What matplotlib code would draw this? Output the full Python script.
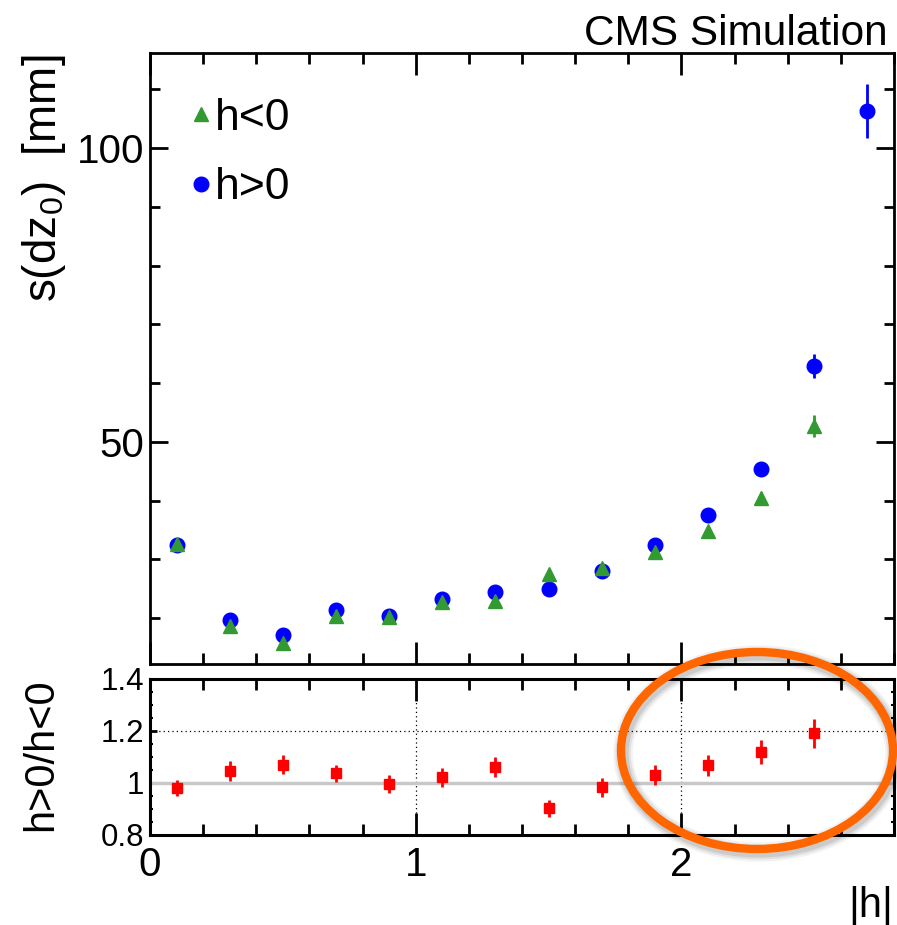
import matplotlib
matplotlib.use("Agg")
import matplotlib.pyplot as plt
from matplotlib.lines import Line2D
from matplotlib.patches import Ellipse
from matplotlib.ticker import MultipleLocator, FuncFormatter

plt.rcParams['font.family'] = ['Liberation Sans', 'DejaVu Sans']
plt.rcParams['mathtext.fontset'] = 'custom'
plt.rcParams['mathtext.rm'] = 'Liberation Sans'
plt.rcParams['mathtext.it'] = 'Liberation Sans'

# |eta| bin centres
eta = [0.1, 0.3, 0.5, 0.7, 0.9, 1.1, 1.3, 1.5, 1.7, 1.9, 2.1, 2.3, 2.5, 2.7]

# sigma(dz0) [um] for positive-eta tracks
pos_val = [32.5, 19.7, 17.1, 21.4, 20.3, 23.3, 24.5, 24.9, 28.05, 32.4, 37.5, 45.4, 62.95, 106.4]
pos_err = [0.4, 0.3, 0.3, 0.3, 0.3, 0.3, 0.4, 0.4, 0.5, 0.6, 0.7, 1.0, 2.0, 4.6]

# sigma(dz0) [um] for negative-eta tracks
neg_eta = eta[:13]
neg_val = [32.7, 18.6, 15.8, 20.4, 20.2, 22.8, 23.0, 27.5, 28.5, 31.3, 34.9, 40.5, 52.7]
neg_err = [0.4, 0.3, 0.3, 0.3, 0.3, 0.3, 0.4, 0.4, 0.5, 0.6, 0.7, 0.9, 1.9]

# ratio positive / negative
ratio_eta = eta[:13]
ratio_val = [0.981, 1.047, 1.071, 1.037, 0.995, 1.022, 1.061, 0.903, 0.984, 1.031, 1.068, 1.119, 1.191]
ratio_err = [0.032, 0.038, 0.036, 0.033, 0.035, 0.036, 0.039, 0.033, 0.036, 0.038, 0.041, 0.046, 0.057]

GREEN = '#339933'
BLUE = '#0000ff'
RED = '#ff0000'

W, H = 897, 925
fig = plt.figure(figsize=(W / 100, H / 100), dpi=100)

L, R = 150 / W, 894 / W
ax = fig.add_axes([L, 1 - 664 / H, R - L, (664 - 53) / H])
rax = fig.add_axes([L, 1 - 835 / H, R - L, (835 - 679) / H])

# ---- main panel ----
ax.errorbar(eta, pos_val, yerr=pos_err, fmt='o', color=BLUE, ms=10.5,
            elinewidth=2, capsize=0, zorder=3)
ax.errorbar(neg_eta, neg_val, yerr=neg_err, fmt='^', color=GREEN, ms=10.5,
            elinewidth=2, capsize=0, zorder=4)

ax.set_xlim(0, 2.8)
ax.set_ylim(12.2, 116.2)
ax.xaxis.set_major_locator(MultipleLocator(1))
ax.xaxis.set_minor_locator(MultipleLocator(0.2))
ax.yaxis.set_major_locator(MultipleLocator(50))
ax.yaxis.set_minor_locator(MultipleLocator(10))
ax.tick_params(which='both', direction='in', top=True, right=True, width=2)
ax.tick_params(which='major', axis='x', length=16)
ax.tick_params(which='minor', axis='x', length=8)
ax.tick_params(which='major', axis='y', length=13)
ax.tick_params(which='minor', axis='y', length=7)
ax.tick_params(axis='x', labelbottom=False)
ax.tick_params(axis='y', labelsize=29, pad=4)
for s in ax.spines.values():
    s.set_linewidth(2)

handles = [Line2D([], [], marker='^', ls='none', color=GREEN, ms=10.5),
           Line2D([], [], marker='o', ls='none', color=BLUE, ms=10.5)]
ax.legend(handles, ['h<0', 'h>0'], loc='upper left',
          bbox_to_anchor=((192 - 150) / 744, (664 - 98) / 611),
          frameon=False, fontsize=32, handlelength=0.4, handletextpad=0.12,
          labelspacing=0.64, borderpad=0, borderaxespad=0)

fig.text(888 / W, 1 - 45 / H, 'CMS Simulation', ha='right', va='baseline', fontsize=30.5)
fig.text(44 / W, 1 - 54 / H, 's(dz$_0$)  [mm]', rotation=90, ha='center', va='top',
         fontsize=33)

# ---- ratio panel ----
rax.grid(True, which='major', color='black', ls=(0, (1, 2.5)), lw=0.9)
rax.set_axisbelow(True)
rax.axhline(1.0, color='#c8c8c8', lw=2.5, zorder=2)
rax.errorbar(ratio_eta, ratio_val, yerr=ratio_err, fmt='s', color=RED, ms=7,
             elinewidth=2, capsize=0, zorder=3)
rax.set_xlim(0, 2.8)
rax.set_ylim(0.8, 1.4)
rax.xaxis.set_major_locator(MultipleLocator(1))
rax.xaxis.set_minor_locator(MultipleLocator(0.2))
rax.yaxis.set_major_locator(MultipleLocator(0.2))
rax.yaxis.set_minor_locator(MultipleLocator(0.05))
rax.yaxis.set_major_formatter(FuncFormatter(lambda v, p: f'{v:g}'))
rax.tick_params(which='both', direction='in', top=True, right=True, width=2)
rax.tick_params(which='major', axis='x', length=16)
rax.tick_params(which='minor', axis='x', length=8)
rax.tick_params(which='major', axis='y', length=5)
rax.tick_params(which='minor', axis='y', length=2, width=1.5)
rax.tick_params(axis='x', labelsize=29, pad=8)
rax.tick_params(axis='y', labelsize=22.5, pad=4)
for s in rax.spines.values():
    s.set_linewidth(2.2)
    s.set_zorder(5)

fig.text(41 / W, 1 - 755 / H, 'h>0/h<0', rotation=90, ha='center', va='center',
         fontsize=30)
fig.text(893 / W, 1 - 917 / H, '|h|', ha='right', va='baseline', fontsize=30)

# ---- highlight ellipse with soft shadow ----
cx, cy, ew, eh = 757, 750.5, 272, 197
for lw, a in [(14, 0.05), (11, 0.07), (8, 0.09)]:
    fig.add_artist(Ellipse(((cx + 2) / W, 1 - (cy + 3) / H), ew / W, eh / H,
                           transform=fig.transFigure, fill=False, ec='black',
                           lw=lw, alpha=a, zorder=9))
fig.add_artist(Ellipse((cx / W, 1 - cy / H), ew / W, eh / H,
                       transform=fig.transFigure, fill=False, ec='#ff6600',
                       lw=6, zorder=10))

fig.savefig('out.png', dpi=100)
